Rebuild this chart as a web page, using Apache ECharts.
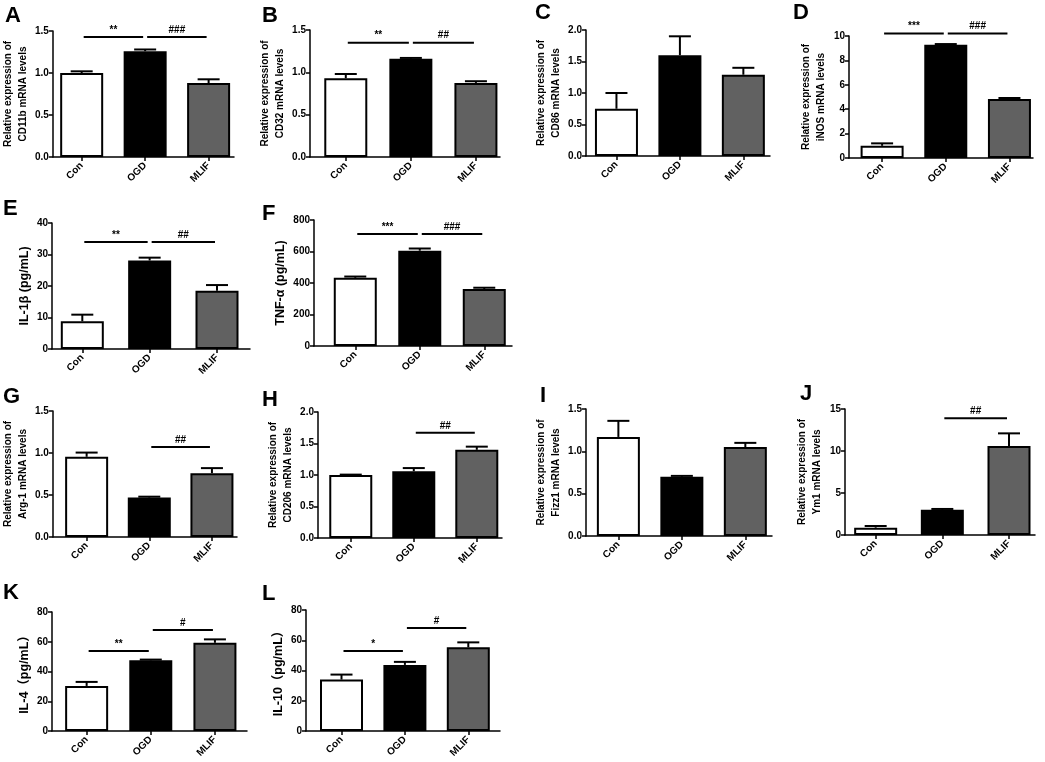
<!DOCTYPE html>
<html>
<head>
<meta charset="utf-8">
<script src="https://cdn.jsdelivr.net/npm/echarts@6/dist/echarts.min.js"></script>
<style>
html,body{margin:0;padding:0;background:#fff;}
#chart{width:1045px;height:762px;}
</style>
</head>
<body>
<div id="chart"></div>
<script>
// ---------------- DATA ----------------
const categories = ['Con', 'OGD', 'MLIF'];
const panelLetters = ['A','B','C','D','E','F','G','H','I','J','K','L'];
const yNames = [
  'Relative expression of\nCD11b mRNA levels',
  'Relative expression of\nCD32 mRNA levels',
  'Relative expression of\nCD86 mRNA levels',
  'Relative expression of\niNOS mRNA levels',
  'IL-1β (pg/mL)',
  'TNF-α (pg/mL)',
  'Relative expression of\nArg-1 mRNA levels',
  'Relative expression of\nCD206 mRNA levels',
  'Relative expression of\nFizz1 mRNA levels',
  'Relative expression of\nYm1 mRNA levels',
  'IL-4（pg/mL）',
  'IL-10（pg/mL）'
];
const yMax = [1.5, 1.5, 2.0, 10, 40, 800, 1.5, 2.0, 1.5, 15, 80, 80];
const yStep = [0.5, 0.5, 0.5, 2, 10, 200, 0.5, 0.5, 0.5, 5, 20, 20];
const yDecimals = [1, 1, 1, 0, 0, 0, 1, 1, 1, 0, 0, 0];

const meanA = [1.00, 1.26, 0.88];   const errA = [0.02, 0.02, 0.045];
const meanB = [0.93, 1.16, 0.875];  const errB = [0.05, 0.01, 0.02];
const meanC = [0.75, 1.60, 1.29];   const errC = [0.25, 0.30, 0.11];
const meanD = [1.0, 9.28, 4.84];    const errD = [0.2, 0.06, 0.08];
const meanE = [8.8, 28.1, 18.5];    const errE = [2.1, 0.9, 1.8];
const meanF = [433, 605, 362];      const errF = [8, 14, 8];
const meanG = [0.955, 0.47, 0.76];  const errG = [0.05, 0.01, 0.06];
const meanH = [1.0, 1.06, 1.40];    const errH = [0.006, 0.05, 0.05];
const meanI = [1.17, 0.70, 1.05];   const errI = [0.19, 0.01, 0.05];
const meanJ = [0.87, 3.0, 10.6];    const errJ = [0.2, 0.1, 1.5];
const meanK = [30.3, 47.5, 59.3];   const errK = [2.7, 0.5, 2.3];
const meanL = [34.0, 43.7, 55.3];   const errL = [3.3, 2.0, 3.3];

// significance brackets: [fromCategory, toCategory, yValue], with marks
const sigA = [[0, 1, 1.43], [1, 2, 1.43]];   const sigMarksA = ['**', '###'];
const sigB = [[0, 1, 1.35], [1, 2, 1.35]];   const sigMarksB = ['**', '##'];
const sigC = [];                              const sigMarksC = [];
const sigD = [[0, 1, 10.2], [1, 2, 10.2]];   const sigMarksD = ['***', '###'];
const sigE = [[0, 1, 34], [1, 2, 34]];       const sigMarksE = ['**', '##'];
const sigF = [[0, 1, 711], [1, 2, 711]];     const sigMarksF = ['***', '###'];
const sigG = [[1, 2, 1.07]];                 const sigMarksG = ['##'];
const sigH = [[1, 2, 1.67]];                 const sigMarksH = ['##'];
const sigI = [];                              const sigMarksI = [];
const sigJ = [[1, 2, 13.9]];                 const sigMarksJ = ['##'];
const sigK = [[0, 1, 53.8], [1, 2, 67.9]];   const sigMarksK = ['**', '#'];
const sigL = [[0, 1, 52.9], [1, 2, 68.1]];   const sigMarksL = ['*', '#'];

const means = [meanA, meanB, meanC, meanD, meanE, meanF, meanG, meanH, meanI, meanJ, meanK, meanL];
const errs  = [errA, errB, errC, errD, errE, errF, errG, errH, errI, errJ, errK, errL];
const sigs  = [sigA, sigB, sigC, sigD, sigE, sigF, sigG, sigH, sigI, sigJ, sigK, sigL];
const sigMarks = [sigMarksA, sigMarksB, sigMarksC, sigMarksD, sigMarksE, sigMarksF, sigMarksG, sigMarksH, sigMarksI, sigMarksJ, sigMarksK, sigMarksL];

// ---------------- LAYOUT ----------------
// [left, top, right, bottom] of each plot area
const gridBoxes = [
  [52, 31, 234, 157], [310, 30, 500, 157], [586, 30, 770, 156], [849, 36, 1033, 158],
  [52, 223, 250, 349], [314, 220, 512, 346],
  [52, 411, 237, 537], [318, 412, 502, 538], [586, 409, 772, 536], [845, 409, 1035, 535],
  [52, 612, 247, 731], [306, 610, 500, 731]
];
const xRanges = [
  [-0.455, 2.40], [-0.55, 2.37], [-0.48, 2.42], [-0.52, 2.37],
  [-0.45, 2.49], [-0.64, 2.43],
  [-0.54, 2.40], [-0.52, 2.40], [-0.51, 2.42], [-0.46, 2.39],
  [-0.54, 2.50], [-0.56, 2.50]
];
const letterPos = [
  [5, 5], [262, 5], [535, 2], [793, 2],
  [3, 198], [262, 203],
  [3, 386], [262, 389], [540, 385], [800, 383],
  [3, 582], [262, 583]
];
const nameGaps = [21, 21, 21, 20, 20, 26, 21, 21, 21, 20, 20, 20];
const barColors = ['#ffffff', '#000000', '#616161'];
const FONT = 'Arial, "Liberation Sans", "Noto Sans CJK SC", sans-serif';

// ---------------- OPTION ----------------
const grids = [], xAxes = [], yAxes = [], series = [], titles = [];

for (let i = 0; i < 12; i++) {
  const [L, T, R, B] = gridBoxes[i];
  grids.push({ left: L, top: T, width: R - L, height: B - T, containLabel: false });
  titles.push({
    text: panelLetters[i], left: letterPos[i][0], top: letterPos[i][1], padding: 0,
    textStyle: { fontFamily: FONT, fontWeight: 'bold', fontSize: 22, color: '#000' }
  });
  xAxes.push({
    type: 'value', gridIndex: i, min: xRanges[i][0], max: xRanges[i][1],
    splitLine: { show: false },
    axisLine: { show: true, onZero: false, lineStyle: { color: '#000', width: 1.5 } },
    axisTick: { show: true, customValues: [0, 1, 2], length: 4, lineStyle: { color: '#000', width: 1.5 } },
    axisLabel: {
      customValues: [0, 1, 2], rotate: 45, margin: 7,
      formatter: v => categories[Math.round(v)],
      fontFamily: FONT, fontWeight: 'bold', fontSize: 10, color: '#000'
    }
  });
  const dec = yDecimals[i];
  yAxes.push({
    type: 'value', gridIndex: i, min: 0, max: yMax[i], interval: yStep[i],
    splitLine: { show: false },
    axisLine: { show: true, onZero: false, lineStyle: { color: '#000', width: 1.5 } },
    axisTick: { show: true, length: 4, lineStyle: { color: '#000', width: 1.5 } },
    axisLabel: {
      margin: 4, formatter: v => v.toFixed(dec),
      fontFamily: FONT, fontWeight: 'bold', fontSize: 10, color: '#000'
    },
    name: yNames[i], nameLocation: 'middle', nameGap: nameGaps[i],
    nameTextStyle: {
      fontFamily: FONT, fontWeight: 'bold', color: '#000',
      fontSize: yNames[i].indexOf('\n') >= 0 ? 10 : 12.5, lineHeight: 15
    }
  });

  series.push({
    type: 'bar', xAxisIndex: i, yAxisIndex: i, barWidth: 43, z: 2,
    data: means[i].map((m, k) => ({
      value: [k, m],
      itemStyle: { color: barColors[k], borderColor: '#000', borderWidth: 2 }
    })),
    silent: true, animation: false
  });

  series.push({
    type: 'custom', xAxisIndex: i, yAxisIndex: i, z: 3, silent: true, animation: false,
    data: means[i].map((m, k) => [k, m, errs[i][k]]),
    encode: { x: 0, y: 1 },
    renderItem: function (params, api) {
      const x = api.value(0), m = api.value(1), e = api.value(2);
      const base = api.coord([x, m]);
      const top = api.coord([x, m + e]);
      const st = { stroke: '#000', lineWidth: 2 };
      return {
        type: 'group', children: [
          { type: 'line', shape: { x1: top[0], y1: base[1], x2: top[0], y2: top[1] }, style: st },
          { type: 'line', shape: { x1: top[0] - 11, y1: top[1], x2: top[0] + 11, y2: top[1] }, style: st }
        ]
      };
    }
  });

  if (sigs[i].length) {
    const marks = sigMarks[i];
    series.push({
      type: 'custom', xAxisIndex: i, yAxisIndex: i, z: 4, silent: true, animation: false, clip: false,
      data: sigs[i],
      encode: { x: [0, 1], y: 2 },
      renderItem: function (params, api) {
        const a = api.coord([api.value(0), api.value(2)]);
        const b = api.coord([api.value(1), api.value(2)]);
        const x1 = a[0] + 2, x2 = b[0] - 2, y = a[1];
        return {
          type: 'group', children: [
            { type: 'line', shape: { x1: x1, y1: y, x2: x2, y2: y }, style: { stroke: '#000', lineWidth: 2 } },
            { type: 'text', x: (x1 + x2) / 2, y: y - 2,
              style: { text: marks[params.dataIndex], textAlign: 'center', textVerticalAlign: 'bottom',
                       fill: '#000', font: 'bold 10px ' + FONT } }
          ]
        };
      }
    });
  }
}

const chart = echarts.init(document.getElementById('chart'), null, { renderer: 'canvas' });
chart.setOption({
  backgroundColor: '#ffffff',
  animation: false,
  title: titles,
  grid: grids,
  xAxis: xAxes,
  yAxis: yAxes,
  series: series
});
</script>
</body>
</html>
